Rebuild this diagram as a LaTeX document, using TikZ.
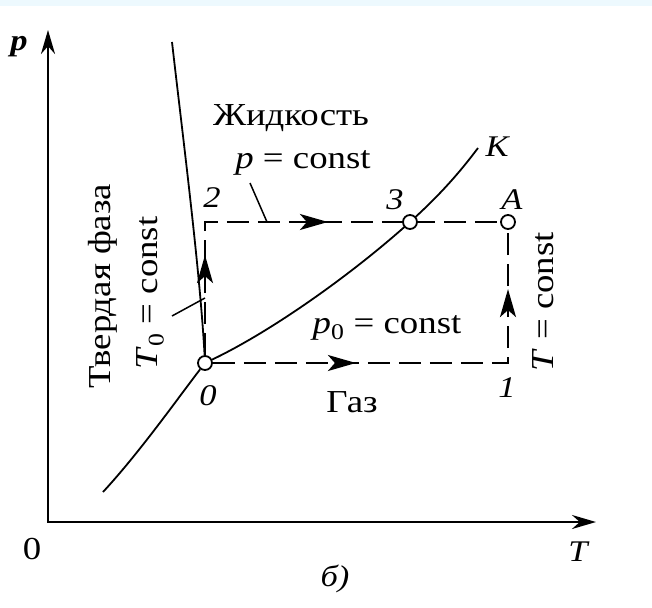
\documentclass[tikz,border=0pt]{standalone}
\usepackage{fontspec}
\setmainfont{Liberation Serif}[FakeStretch=1.15]
\usetikzlibrary{arrows.meta,decorations.markings}
\begin{document}
\begin{tikzpicture}[x=1pt,y=-1pt,
  axis/.style={line width=2.6pt,{Stealth[length=24pt,width=14pt]}-{Stealth[length=24pt,width=14pt]}},
  curve/.style={line width=1.8pt},
  pathdash/.style={line width=2.2pt,dash pattern=on 22pt off 9pt},
  leader/.style={line width=1.5pt},
  pt/.style={circle,draw,fill=white,line width=1.8pt,inner sep=0pt,minimum size=14pt},
  lbl/.style={font=\fontsize{32}{34}\selectfont,inner sep=0pt},
  ilbl/.style={font=\fontsize{30}{32}\selectfont\itshape,inner sep=0pt},
  twotips/.style n args={2}{postaction={decorate},decoration={markings,
     mark=at position #1 with {\arrow{Stealth[length=28pt,width=16pt,inset=7pt]}},
     mark=at position #2 with {\arrow{Stealth[length=28pt,width=16pt,inset=7pt]}}}}]
\useasboundingbox (0,0) rectangle (652,607);
\fill[cyan!7] (0,0) rectangle (652,6);
% axes
\coordinate (ptop) at (48,30);
\coordinate (orig) at (48,522);
\coordinate (Tend) at (596,522);
\draw[axis] (ptop) -- (orig) -- (Tend);
\node[ilbl,font=\fontsize{30}{32}\selectfont\itshape\bfseries] (plab) at (19,47) {p};
\node[lbl] (zero) at (32,549) {0};
\node[ilbl] (Tlab) at (578,552) {T};
\node[ilbl] (blab) at (335,579) {б)};
% points
\node[pt] (O) at (205,363) {};
\coordinate (c1) at (508,363);
\coordinate (c2) at (205,222);
\coordinate (k3) at (410,222);
\coordinate (Kend) at (478,148);
\coordinate (meltTop) at (172,42);
\coordinate (sublBot) at (103,492);
% curves
\draw[curve] (meltTop) .. controls (182,130) and (200,270) .. (O);
\draw[curve] (sublBot) .. controls (140,452) and (178,398) .. (O);
\draw[curve] (O) .. controls (270,332) and (350,276) .. (k3) .. controls (440,195) and (460,172) .. (Kend);
% dashed paths
\node[pt] (A) at (508,222) {};
\draw[pathdash,twotips={100pt}{256pt}] (O) -- (c2) -- (A);
\draw[pathdash,twotips={143pt}{369pt}] (O) -- (c1) -- (A);
\node[pt] (P3) at (k3) {};
% leaders
\coordinate (pl1) at (250,183);
\coordinate (pl2) at (267,222);
\draw[leader] (pl1) -- (pl2);
\coordinate (tl1) at (172,316);
\coordinate (tl2) at (205,298);
\draw[leader] (tl1) -- (tl2);
% labels
\node[lbl] (liq) at (291,118) {Жидкость};
\node[lbl] (pconst) at (303,163) {\textit{p} = const};
\node[ilbl] (n2) at (212,198) {2};
\node[ilbl] (n3) at (395,200) {3};
\node[ilbl] (nA) at (512,200) {A};
\node[ilbl] (nK) at (497,147) {K};
\node[ilbl] (n0) at (208,396) {0};
\node[ilbl] (n1) at (507,388) {1};
\node[lbl] (gas) at (352,402) {Газ};
\node[lbl] (p0const) at (387,328) {\textit{p}\textsubscript{0} = const};
\node[lbl,rotate=90] (Tconst) at (543,302) {\textit{T} = const};
\node[lbl,rotate=90] (solid) at (103,286) {Твердая фаза};
\node[lbl,rotate=90] (T0const) at (150,293) {\textit{T}\textsubscript{0} = const};
\end{tikzpicture}
\end{document}
